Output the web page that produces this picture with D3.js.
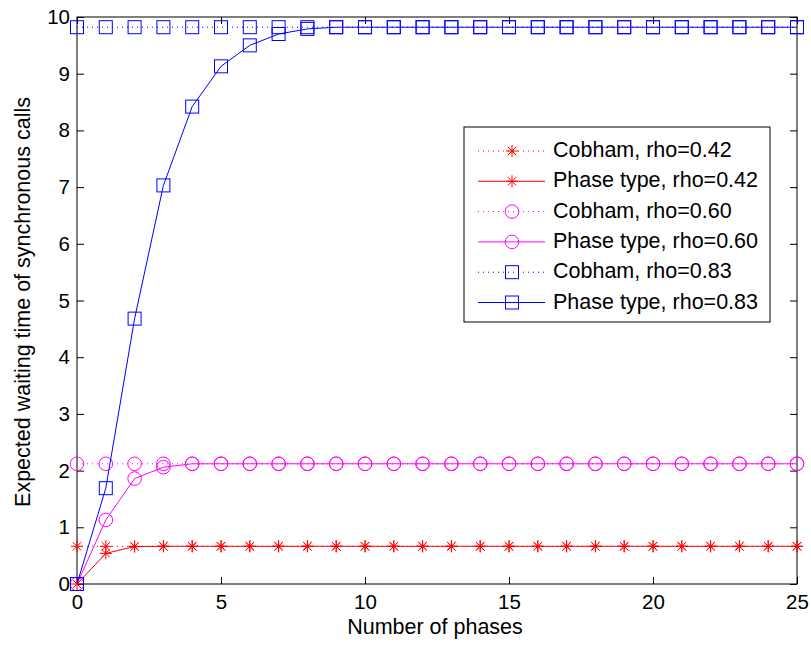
<!DOCTYPE html>
<html>
<head>
<meta charset="utf-8">
<script src="https://cdn.jsdelivr.net/npm/d3@7"></script>
<style>
  body { margin: 0; background: #fff; }
  text { font-family: "Liberation Sans", Arial, sans-serif; fill: #000; }
</style>
</head>
<body>
<div id="chart"></div>
<script>
// data
var phases = d3.range(0, 26);
var cobham42 = 0.665, cobham60 = 2.12, cobham83 = 9.82;
var phase42 = [0, 0.54, 0.66, 0.665];
var phase60 = [0, 1.13, 1.86, 2.06, 2.12];
var phase83 = [0, 1.69, 4.68, 7.03, 8.42, 9.13, 9.50, 9.70, 9.79, 9.82];
var xTicks = [0, 5, 10, 15, 20, 25];
var yTicks = d3.range(0, 11);

function fill(arr, last){
  return phases.map(function(p){ return p < arr.length ? arr[p] : last; });
}

var series = [
  {name: 'Cobham, rho=0.42', color: '#ff0000', dash: '1,4', marker: 'star', values: phases.map(function(){ return cobham42; })},
  {name: 'Phase type, rho=0.42', color: '#ff0000', dash: null, marker: 'star', values: fill(phase42, cobham42)},
  {name: 'Cobham, rho=0.60', color: '#ff00ff', dash: '1,4', marker: 'circle', values: phases.map(function(){ return cobham60; })},
  {name: 'Phase type, rho=0.60', color: '#ff00ff', dash: null, marker: 'circle', values: fill(phase60, cobham60)},
  {name: 'Cobham, rho=0.83', color: '#0000ff', dash: '1,4', marker: 'square', values: phases.map(function(){ return cobham83; })},
  {name: 'Phase type, rho=0.83', color: '#0000ff', dash: null, marker: 'square', values: fill(phase83, cobham83)}
];

var width = 811, height = 646;
var m = {left: 77, top: 17, right: 14, bottom: 62};
var w = width - m.left - m.right, h = height - m.top - m.bottom;

var svg = d3.select('#chart').append('svg')
  .attr('width', width).attr('height', height);

var x = d3.scaleLinear().domain([0, 25]).range([0, w]);
var y = d3.scaleLinear().domain([0, 10]).range([h, 0]);

var g = svg.append('g').attr('transform', 'translate(' + m.left + ',' + m.top + ')');

// axes, ticks inside on all four sides
function styleAxis(sel){
  sel.select('.domain').remove();
  sel.selectAll('.tick line').attr('stroke', '#000');
  sel.selectAll('.tick text').style('font-size', '20.5px');
}
g.append('g').attr('transform', 'translate(0,' + h + ')')
  .call(d3.axisBottom(x).tickValues(xTicks).tickSizeInner(-7).tickSizeOuter(0).tickPadding(10))
  .call(styleAxis);
g.append('g')
  .call(d3.axisTop(x).tickValues(xTicks).tickSizeInner(-7).tickSizeOuter(0).tickFormat(''))
  .call(styleAxis);
g.append('g')
  .call(d3.axisLeft(y).tickValues(yTicks).tickSizeInner(-7).tickSizeOuter(0).tickPadding(7))
  .call(styleAxis);
g.append('g').attr('transform', 'translate(' + w + ',0)')
  .call(d3.axisRight(y).tickValues(yTicks).tickSizeInner(-7).tickSizeOuter(0).tickFormat(''))
  .call(styleAxis);
g.append('rect').attr('width', w).attr('height', h)
  .attr('fill', 'none').attr('stroke', '#000').attr('stroke-width', 1);

function drawMarker(sel, type, color){
  if(type === 'star'){
    var s = 6;
    sel.append('path')
      .attr('d', 'M' + (-s) + ',0H' + s + 'M0,' + (-s) + 'V' + s +
                 'M' + (-s*0.7) + ',' + (-s*0.7) + 'L' + (s*0.7) + ',' + (s*0.7) +
                 'M' + (-s*0.7) + ',' + (s*0.7) + 'L' + (s*0.7) + ',' + (-s*0.7))
      .attr('stroke', color).attr('stroke-width', 1).attr('fill', 'none');
  }else if(type === 'circle'){
    sel.append('circle').attr('r', 6.8)
      .attr('stroke', color).attr('stroke-width', 1).attr('fill', 'none');
  }else{
    sel.append('rect').attr('x', -6.5).attr('y', -6.5).attr('width', 13).attr('height', 13)
      .attr('stroke', color).attr('stroke-width', 1).attr('fill', 'none');
  }
}

var line = d3.line().x(function(d, i){ return x(phases[i]); }).y(function(d){ return y(d); });

series.forEach(function(s){
  var sg = g.append('g');
  sg.append('path').datum(s.values)
    .attr('d', line).attr('fill', 'none')
    .attr('stroke', s.color).attr('stroke-width', 1)
    .attr('stroke-dasharray', s.dash);
  sg.selectAll('g.mk').data(s.values).enter().append('g')
    .attr('class', 'mk')
    .attr('transform', function(d, i){ return 'translate(' + x(phases[i]) + ',' + y(d) + ')'; })
    .each(function(){ drawMarker(d3.select(this), s.marker, s.color); });
});

// legend
var lg = svg.append('g').attr('transform', 'translate(464,127)');
lg.append('rect').attr('width', 306).attr('height', 195)
  .attr('fill', '#fff').attr('stroke', '#000').attr('stroke-width', 1);
series.forEach(function(s, i){
  var ly = 24 + i * 30.3;
  var row = lg.append('g').attr('transform', 'translate(0,' + ly + ')');
  row.append('line').attr('x1', 14).attr('x2', 81).attr('y1', 0).attr('y2', 0)
    .attr('stroke', s.color).attr('stroke-width', 1).attr('stroke-dasharray', s.dash);
  drawMarker(row.append('g').attr('transform', 'translate(48,0)'), s.marker, s.color);
  row.append('text').attr('x', 89).attr('y', 6)
    .style('font-size', '21.5px').text(s.name);
});

// axis titles
svg.append('text').attr('x', 435).attr('y', 634)
  .attr('text-anchor', 'middle').style('font-size', '21.5px').text('Number of phases');
svg.append('text')
  .attr('transform', 'translate(30,302) rotate(-90)')
  .attr('text-anchor', 'middle').style('font-size', '21.5px')
  .text('Expected waiting time of synchronous calls');
</script>
</body>
</html>
